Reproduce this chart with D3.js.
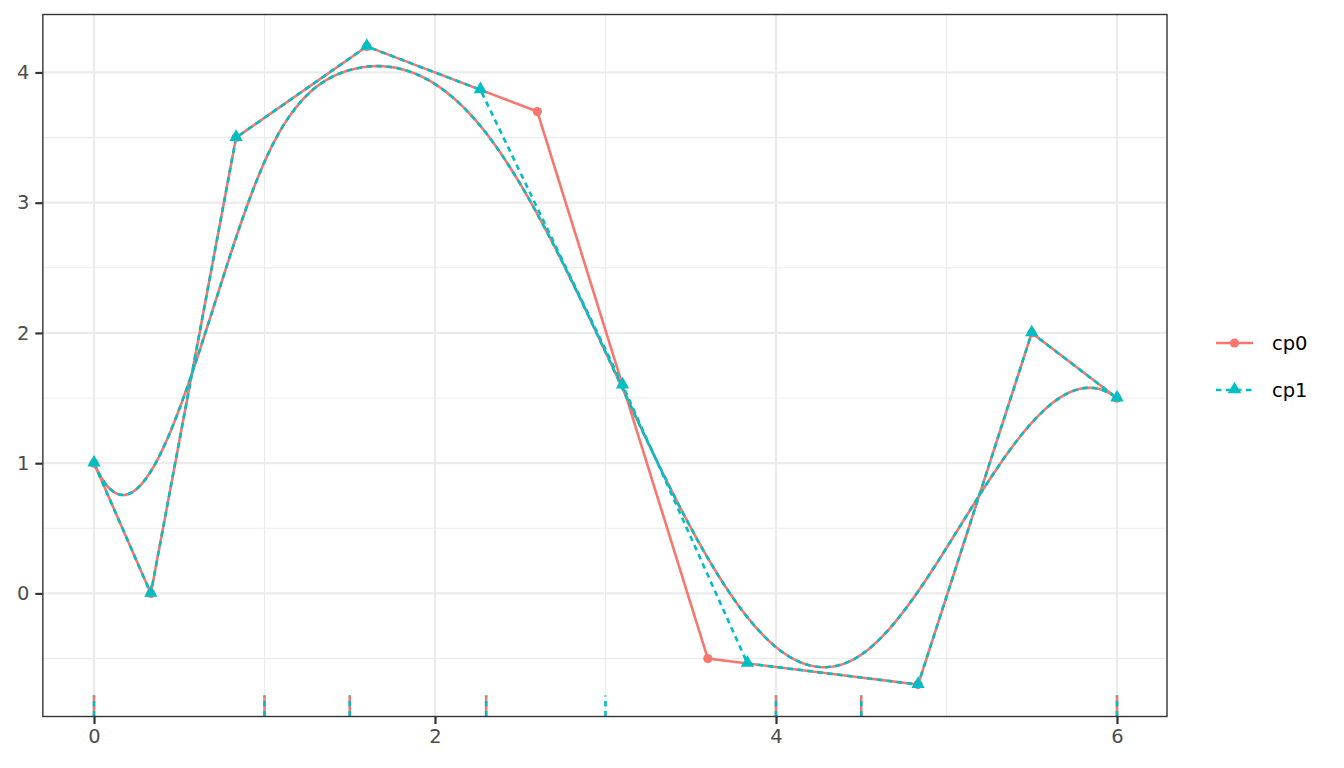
<!DOCTYPE html>
<html>
<head>
<meta charset="utf-8">
<script src="https://cdn.jsdelivr.net/npm/d3@7"></script>
<style>
html,body{margin:0;padding:0;background:#fff;}
svg{display:block;}
</style>
</head>
<body>
<svg id="chart" width="1344" height="768"></svg>
<script>
// ---- data ----
const seriesNames = ["cp0", "cp1"];
const cp0X = [0, 0.3333, 0.8333, 1.6, 2.6, 3.6, 4.8333, 5.5, 6];
const cp0Y = [1, 0, 3.5, 4.2, 3.7, -0.5, -0.7, 2, 1.5];
const cp1X = [0, 0.3333, 0.8333, 1.6, 2.2667, 3.1, 3.8324, 4.8333, 5.5, 6];
const cp1Y = [1, 0, 3.5, 4.2, 3.8667, 1.6, -0.5378, -0.7, 2, 1.5];
const knots0 = [0, 0, 0, 0, 1, 1.5, 2.3, 4, 4.5, 6, 6, 6, 6];
const knots1 = [0, 0, 0, 0, 1, 1.5, 2.3, 3, 4, 4.5, 6, 6, 6, 6];
const xTicks = [0, 2, 4, 6];
const yTicks = [0, 1, 2, 3, 4];
const xMinor = [1, 3, 5];
const yMinor = [-0.5, 0.5, 1.5, 2.5, 3.5];
const degree = 3;

// ---- layout / style ----
const colors = {cp0: "#F8766D", cp1: "#00BFC4"};
const dash = {cp0: null, cp1: "5.5,4.5"};
const panel = {left: 42.85, right: 1167, top: 14.5, bottom: 716.5};
const svg = d3.select("#chart");
const x = d3.scaleLinear().domain([-0.3, 6.3]).range([42.85, 1168.15]);
const y = d3.scaleLinear().domain([-0.945, 4.445]).range([panel.bottom, panel.top]);

// B-spline evaluation (de Boor) from control points and knot vector
function deBoor(t, knots, px, py, p) {
  const n = px.length;
  let k = p;
  for (let i = p; i < n; i++) { if (t >= knots[i] && t < knots[i + 1]) k = i; }
  if (t >= knots[n]) k = n - 1;
  const dx = [], dy = [];
  for (let j = 0; j <= p; j++) { dx.push(px[j + k - p]); dy.push(py[j + k - p]); }
  for (let r = 1; r <= p; r++) {
    for (let j = p; j >= r; j--) {
      const i = j + k - p;
      const denom = knots[i + p - r + 1] - knots[i];
      const a = denom === 0 ? 0 : (t - knots[i]) / denom;
      dx[j] = (1 - a) * dx[j - 1] + a * dx[j];
      dy[j] = (1 - a) * dy[j - 1] + a * dy[j];
    }
  }
  return [dx[p], dy[p]];
}
function splinePts(knots, px, py) {
  const t0 = knots[degree], t1 = knots[px.length];
  const N = 400, out = [];
  for (let s = 0; s <= N; s++) out.push(deBoor(t0 + (t1 - t0) * s / N, knots, px, py, degree));
  return out;
}

const series = [
  {name: "cp0", px: cp0X, py: cp0Y, knots: knots0},
  {name: "cp1", px: cp1X, py: cp1Y, knots: knots1}
];

// panel background
svg.append("rect").attr("x", panel.left).attr("y", panel.top)
  .attr("width", panel.right - panel.left).attr("height", panel.bottom - panel.top)
  .attr("fill", "#fff");

// grid
const grid = svg.append("g");
grid.selectAll(".xm").data(xMinor).join("line")
  .attr("x1", d => x(d)).attr("x2", d => x(d)).attr("y1", panel.top).attr("y2", panel.bottom)
  .attr("stroke", "#EBEBEB").attr("stroke-width", 1.1);
grid.selectAll(".ym").data(yMinor).join("line")
  .attr("y1", d => y(d)).attr("y2", d => y(d)).attr("x1", panel.left).attr("x2", panel.right)
  .attr("stroke", "#EBEBEB").attr("stroke-width", 1.1);
grid.selectAll(".xM").data(xTicks).join("line")
  .attr("x1", d => x(d)).attr("x2", d => x(d)).attr("y1", panel.top).attr("y2", panel.bottom)
  .attr("stroke", "#EBEBEB").attr("stroke-width", 2.2);
grid.selectAll(".yM").data(yTicks).join("line")
  .attr("y1", d => y(d)).attr("y2", d => y(d)).attr("x1", panel.left).attr("x2", panel.right)
  .attr("stroke", "#EBEBEB").attr("stroke-width", 2.2);

const line = d3.line().x(d => x(d[0])).y(d => y(d[1]));
const lw = 2.6;

// spline curves and control polygons
series.forEach(s => {
  const g = svg.append("g");
  g.append("path").attr("d", line(splinePts(s.knots, s.px, s.py)))
    .attr("fill", "none").attr("stroke", colors[s.name]).attr("stroke-width", lw)
    .attr("stroke-dasharray", dash[s.name]);
  g.append("path").attr("d", line(s.px.map((v, i) => [v, s.py[i]])))
    .attr("fill", "none").attr("stroke", colors[s.name]).attr("stroke-width", lw)
    .attr("stroke-dasharray", dash[s.name]);
});

// points
svg.append("g").selectAll("circle").data(cp0X.map((v, i) => [v, cp0Y[i]])).join("circle")
  .attr("cx", d => x(d[0])).attr("cy", d => y(d[1])).attr("r", 4.6).attr("fill", colors.cp0);
const tri = d3.symbol().type(d3.symbolTriangle).size(78);
svg.append("g").selectAll("path").data(cp1X.map((v, i) => [v, cp1Y[i]])).join("path")
  .attr("d", tri).attr("transform", d => `translate(${x(d[0])},${y(d[1]) - 0.5})`)
  .attr("fill", colors.cp1);

// rug of knots
series.forEach(s => {
  const uk = Array.from(new Set(s.knots));
  svg.append("g").selectAll("line").data(uk).join("line")
    .attr("x1", d => x(d)).attr("x2", d => x(d))
    .attr("y1", panel.bottom).attr("y2", panel.bottom - 0.03 * (panel.bottom - panel.top))
    .attr("stroke", colors[s.name]).attr("stroke-width", lw)
    .attr("stroke-dasharray", dash[s.name]);
});

// panel border
svg.append("rect").attr("x", panel.left).attr("y", panel.top)
  .attr("width", panel.right - panel.left).attr("height", panel.bottom - panel.top)
  .attr("fill", "none").attr("stroke", "#333333").attr("stroke-width", 1.4);

// axes
const font = "'DejaVu Sans', sans-serif";
const xAxis = svg.append("g").attr("transform", `translate(0,${panel.bottom})`)
  .call(d3.axisBottom(x).tickValues(xTicks).tickSize(7.5).tickPadding(5).tickFormat(d3.format("d")));
xAxis.select(".domain").remove();
xAxis.selectAll(".tick line").attr("stroke", "#333333").attr("stroke-width", 2.2);
xAxis.selectAll(".tick text").attr("fill", "#4D4D4D").style("font-family", font).style("font-size", "19.5px");

const yAxis = svg.append("g").attr("transform", `translate(${panel.left},0)`)
  .call(d3.axisLeft(y).tickValues(yTicks).tickSize(7.5).tickPadding(6).tickFormat(d3.format("d")));
yAxis.select(".domain").remove();
yAxis.selectAll(".tick line").attr("stroke", "#333333").attr("stroke-width", 2.2);
yAxis.selectAll(".tick text").attr("fill", "#4D4D4D").style("font-family", font).style("font-size", "19.5px");

// legend
const legend = svg.append("g");
const legY = [343, 390];
seriesNames.forEach((name, i) => {
  const g = legend.append("g").attr("transform", `translate(0,${legY[i]})`);
  g.append("line").attr("x1", 1216).attr("x2", 1253).attr("y1", 0).attr("y2", 0)
    .attr("stroke", colors[name]).attr("stroke-width", lw).attr("stroke-dasharray", dash[name]);
  if (name === "cp0") {
    g.append("circle").attr("cx", 1234.5).attr("cy", 0).attr("r", 4.6).attr("fill", colors[name]);
  } else {
    g.append("path").attr("d", tri).attr("transform", "translate(1234.5,-0.5)").attr("fill", colors[name]);
  }
  g.append("text").attr("x", 1272).attr("y", 0).attr("dy", "0.35em")
    .style("font-family", font).style("font-size", "19.5px").attr("fill", "#000").text(name);
});
</script>
</body>
</html>
